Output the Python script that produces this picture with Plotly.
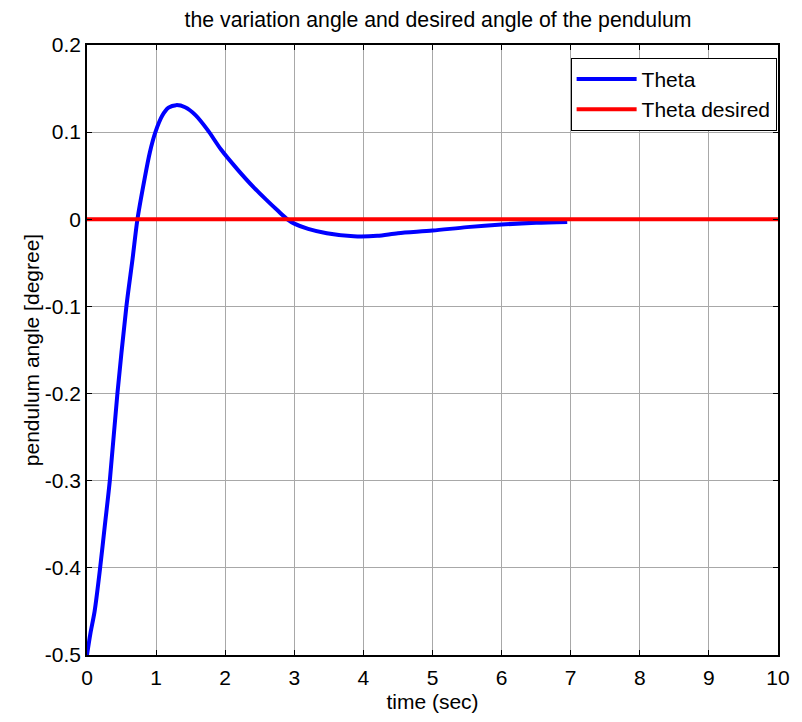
import plotly.graph_objects as go

# Pendulum angle response (time in sec, angle in degree)
t = [0, 0.05, 0.11, 0.19, 0.26, 0.33, 0.44, 0.57, 0.66, 0.73, 0.83, 0.91, 0.99,
     1.09, 1.18, 1.29, 1.42, 1.57, 1.75, 1.94, 2.18, 2.42, 2.60, 2.76, 2.90,
     3.0, 3.2, 3.47, 3.86, 4.2, 4.5, 5.0, 5.5, 6.0, 6.5, 6.95]
theta = [-0.5, -0.475, -0.45, -0.4, -0.35, -0.3, -0.2, -0.1, -0.045, 0, 0.045, 0.077, 0.1,
         0.119, 0.128, 0.131, 0.1285, 0.1195, 0.102, 0.08, 0.057, 0.036, 0.022, 0.01, 0,
         -0.005, -0.011, -0.016, -0.0195, -0.019, -0.016, -0.013, -0.009, -0.006, -0.004, -0.003]

# Desired angle (reference)
t_des = [0, 10]
theta_des = [0, 0]

x_ticks = [0, 1, 2, 3, 4, 5, 6, 7, 8, 9, 10]
y_ticks = [-0.5, -0.4, -0.3, -0.2, -0.1, 0, 0.1, 0.2]
y_tick_text = ["-0.5", "-0.4", "-0.3", "-0.2", "-0.1", "0", "0.1", "0.2"]

font_family = "Liberation Sans, Arial, sans-serif"
fs = 21

fig = go.Figure()
fig.add_trace(go.Scatter(x=t, y=theta, mode="lines", name="Theta",
                         line=dict(color="#0000ff", width=4, shape="spline", smoothing=0.8)))
fig.add_trace(go.Scatter(x=t_des, y=theta_des, mode="lines", name="Theta desired",
                         line=dict(color="#ff0000", width=4)))

axis_common = dict(
    showline=True, linecolor="black", linewidth=1.5, mirror="ticks",
    ticks="inside", ticklen=5, tickcolor="black", tickwidth=1,
    showgrid=True, gridcolor="#a8a8a8", gridwidth=1,
    zeroline=False, tickfont=dict(size=fs, color="black", family=font_family),
)

fig.update_layout(
    width=802, height=722,
    margin=dict(l=87, r=13, t=45, b=66),
    paper_bgcolor="white", plot_bgcolor="white",
    font=dict(family=font_family, color="black", size=fs),
    title=dict(text="the variation angle and desired angle of the pendulum",
               x=(87 + 789) / 2 / 802, xanchor="center", y=1 - 20 / 722, yanchor="middle",
               font=dict(size=21.25, color="black")),
    xaxis=dict(range=[0, 10], tickvals=x_ticks, ticklabelstandoff=3,
               title=dict(text="time (sec)", font=dict(size=fs), standoff=6),
               **axis_common),
    yaxis=dict(range=[-0.5, 0.2], tickvals=y_ticks, ticktext=y_tick_text,
               title=dict(text="pendulum angle [degree]", font=dict(size=fs), standoff=0),
               **axis_common),
    legend=dict(x=0.998, y=0.979, xanchor="right", yanchor="top",
                bgcolor="white", bordercolor="black", borderwidth=1, itemwidth=60,
                font=dict(size=fs, color="black"), tracegroupgap=0),
    showlegend=True,
)

fig.write_html("out.html")
